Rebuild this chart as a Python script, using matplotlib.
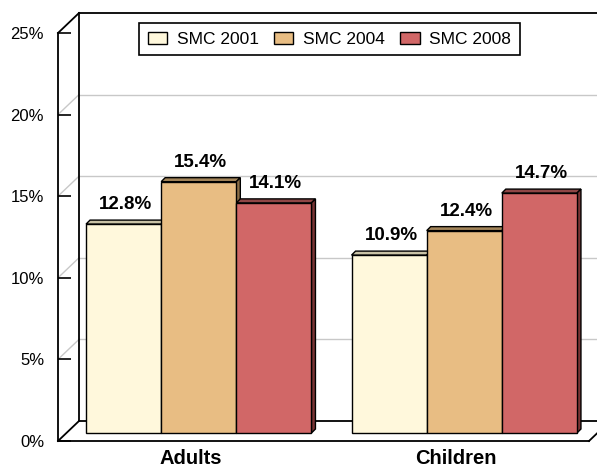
import numpy as np
import matplotlib.pyplot as plt
from matplotlib.patches import Polygon

plt.rcParams['font.family'] = ['Liberation Sans', 'DejaVu Sans']

# Dados do gráfico
categories = ['Adults', 'Children']
series = ['SMC 2001', 'SMC 2004', 'SMC 2008']
values = {
    'SMC 2001': [12.8, 10.9],
    'SMC 2004': [15.4, 12.4],
    'SMC 2008': [14.1, 14.7],
}
yticks = [0, 5, 10, 15, 20, 25]
ytick_labels = ['0%', '5%', '10%', '15%', '20%', '25%']

colors = {'SMC 2001': '#FFF8DC', 'SMC 2004': '#E8BD83', 'SMC 2008': '#D16767'}
top_colors = {'SMC 2001': '#C9C2A6', 'SMC 2004': '#A3855A', 'SMC 2008': '#8F4646'}
side_colors = {'SMC 2001': '#B5AE94', 'SMC 2004': '#8C6F47', 'SMC 2008': '#7A3434'}

fig = plt.figure(figsize=(5.97, 4.72), dpi=100)
ax = fig.add_axes([58/597, 31/472, 531/597, 408/472])
ax.set_xlim(-0.5, 1.5)
ax.set_ylim(0, 25)

# conversão de pixels para unidades de dados
ppx = 531 / 2.0
ppy = 408 / 25.0
def px(dx, dy):
    return dx / ppx, dy / ppy

# parede do fundo (profundidade 21 x 20 px)
bx, by = px(21, 20)
for y in yticks:
    c = 'black' if y in (0, 25) else '#C8C8C8'
    lw = 1.3 if y in (0, 25) else 1.0
    ax.plot([-0.5 + bx, 1.5 + bx], [y + by, y + by], color=c, lw=lw, clip_on=False, zorder=1)
    ax.plot([-0.5, -0.5 + bx], [y, y + by], color=c, lw=lw, clip_on=False, zorder=1)
ax.plot([-0.5 + bx, -0.5 + bx], [by, 25 + by], color='black', lw=1.3, clip_on=False, zorder=1)
ax.plot([1.5, 1.5 + bx], [0, by], color='black', lw=1.3, clip_on=False, zorder=1)

# barras no plano do meio (8 px de profundidade)
ox, oy = px(8, 8)
dx, dy = px(4, 4)
width = 0.283
x = np.arange(len(categories))
for i, s in enumerate(series):
    xs = x + (i - 1) * width + ox
    ax.bar(xs, values[s], width, bottom=oy, color=colors[s], edgecolor='black',
           lw=1.0, clip_on=False, zorder=3)
    for xc, v in zip(xs, values[s]):
        x0, x1 = xc - width / 2, xc + width / 2
        top = v + oy
        ax.add_patch(Polygon([(x0, top), (x1, top), (x1 + dx, top + dy), (x0 + dx, top + dy)],
                             closed=True, facecolor=top_colors[s], edgecolor='black',
                             lw=1.0, clip_on=False, zorder=2))
        ax.add_patch(Polygon([(x1, oy), (x1, top), (x1 + dx, top + dy), (x1 + dx, oy + dy)],
                             closed=True, facecolor=side_colors[s], edgecolor='black',
                             lw=1.0, clip_on=False, zorder=2))
        ax.annotate('{:.1f}%'.format(v), (xc + dx / 2, top + dy), xytext=(0, 5),
                    textcoords='offset points', ha='center', va='bottom',
                    fontsize=13.5, fontweight='bold', zorder=5)

for side in ['top', 'right']:
    ax.spines[side].set_visible(False)
for side in ['left', 'bottom']:
    ax.spines[side].set_linewidth(1.3)
    ax.spines[side].set_zorder(4)

ax.set_yticks(yticks)
ax.set_yticklabels(ytick_labels, fontsize=12)
ax.tick_params(axis='y', direction='in', length=9, width=1.2, pad=10)
ax.set_xticks(x)
ax.set_xticklabels(categories, fontsize=14.5, fontweight='bold')
ax.tick_params(axis='x', length=0, pad=6)

handles = [plt.Rectangle((0, 0), 1, 1, facecolor=colors[s], edgecolor='black', lw=1.0) for s in series]
leg = fig.legend(handles, series, loc='upper center', bbox_to_anchor=(0.552, 0.951), ncol=3,
                 fontsize=12.5, frameon=True, fancybox=False, edgecolor='black', framealpha=1,
                 handlelength=1.1, handleheight=0.66, handletextpad=0.55, columnspacing=0.9,
                 borderpad=0.5, borderaxespad=0)
leg.get_frame().set_linewidth(1.2)

fig.savefig('out.png', dpi=100)
